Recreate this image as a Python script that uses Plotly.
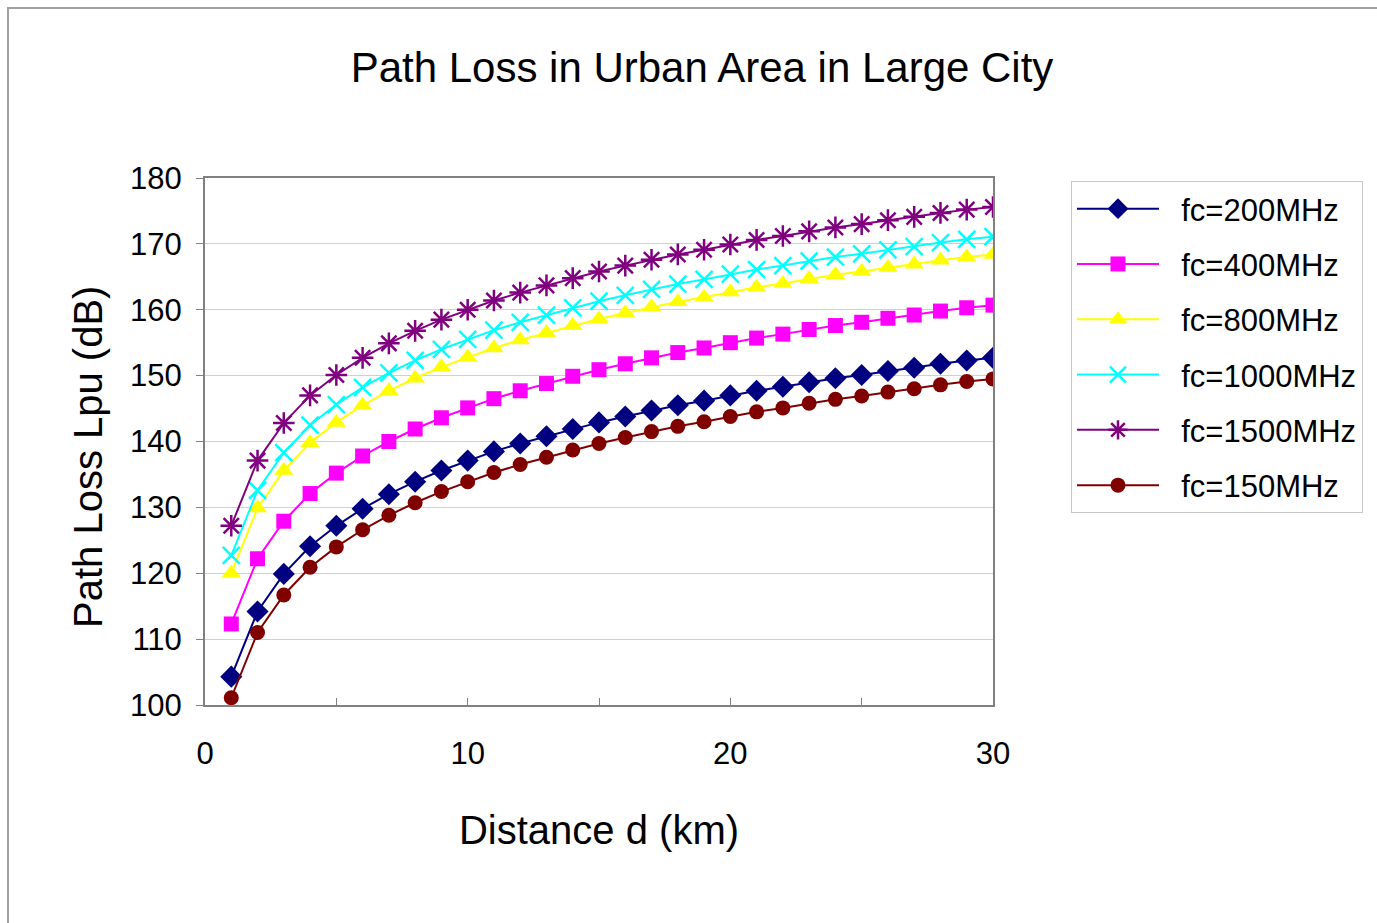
import plotly.graph_objects as go

distance_km = list(range(1, 31))

loss_200 = [104.3, 114.2, 119.9, 124.1, 127.2, 129.8, 132.0, 133.9, 135.6, 137.1, 138.5, 139.7, 140.8, 141.9, 142.9,
            143.8, 144.7, 145.5, 146.2, 147.0, 147.7, 148.3, 149.0, 149.6, 150.1, 150.7, 151.2, 151.8, 152.3, 152.7]
loss_400 = [112.3, 122.2, 127.9, 132.1, 135.2, 137.8, 140.0, 141.9, 143.6, 145.1, 146.5, 147.7, 148.8, 149.9, 150.9,
            151.8, 152.7, 153.5, 154.2, 155.0, 155.7, 156.3, 157.0, 157.6, 158.1, 158.7, 159.2, 159.8, 160.3, 160.7]
loss_800 = [120.0, 129.9, 135.6, 139.8, 142.9, 145.5, 147.7, 149.6, 151.3, 152.8, 154.2, 155.4, 156.5, 157.6, 158.6,
            159.5, 160.4, 161.2, 161.9, 162.7, 163.4, 164.0, 164.7, 165.3, 165.8, 166.4, 166.9, 167.5, 168.0, 168.4]
loss_1000 = [122.7, 132.6, 138.3, 142.5, 145.6, 148.2, 150.4, 152.3, 154.0, 155.5, 156.9, 158.1, 159.2, 160.3, 161.3,
             162.2, 163.1, 163.9, 164.6, 165.4, 166.1, 166.7, 167.4, 168.0, 168.5, 169.1, 169.6, 170.2, 170.7, 171.1]
loss_1500 = [127.2, 137.1, 142.8, 147.0, 150.1, 152.7, 154.9, 156.8, 158.5, 160.0, 161.4, 162.6, 163.7, 164.8, 165.8,
             166.7, 167.6, 168.4, 169.1, 169.9, 170.6, 171.2, 171.9, 172.5, 173.0, 173.6, 174.1, 174.7, 175.2, 175.6]
loss_150 = [101.1, 111.0, 116.7, 120.9, 124.0, 126.6, 128.8, 130.7, 132.4, 133.9, 135.3, 136.5, 137.6, 138.7, 139.7,
            140.6, 141.5, 142.3, 143.0, 143.8, 144.5, 145.1, 145.8, 146.4, 146.9, 147.5, 148.0, 148.6, 149.1, 149.5]

series_names = ["fc=200MHz", "fc=400MHz", "fc=800MHz", "fc=1000MHz", "fc=1500MHz", "fc=150MHz"]
series_values = [loss_200, loss_400, loss_800, loss_1000, loss_1500, loss_150]

x_tick_vals = [0, 5, 10, 15, 20, 25, 30]
x_tick_text = ["0", "", "10", "", "20", "", "30"]
y_tick_vals = [100, 110, 120, 130, 140, 150, 160, 170, 180]

colors = ["#000080", "#FF00FF", "#FFFF00", "#00FFFF", "#800080", "#800000"]
symbols = ["diamond", "square", "triangle-up", "x-thin-open", "asterisk-open", "circle"]
sizes = [17, 15, 17, 17, 18, 15]

FONT = "Arial, 'Liberation Sans', sans-serif"

fig = go.Figure()
for i, (name, vals) in enumerate(zip(series_names, series_values)):
    open_sym = symbols[i].endswith("open")
    fig.add_trace(go.Scatter(
        x=distance_km, y=vals, name="\u00a0\u00a0" + name,
        mode="lines+markers", legendgroup=name,
        line=dict(color=colors[i], width=2),
        marker=dict(symbol=symbols[i], size=sizes[i], color=colors[i],
                    line=dict(color=colors[i], width=2.5 if open_sym else 0)),
    ))

fig.update_layout(
    width=1377, height=923, autosize=False,
    margin=dict(l=205, r=384, t=178, b=218, autoexpand=False),
    paper_bgcolor="white", plot_bgcolor="white",
    font=dict(family=FONT, color="black"),
    title=dict(text="Path Loss in Urban Area in Large City", x=(702 / 1377), xanchor="center",
               y=1 - 67 / 923, yanchor="middle", font=dict(size=42, family=FONT)),
    showlegend=True,
    legend=dict(x=(1071 - 205) / 788, xanchor="left", y=(705 - 181) / 527, yanchor="top",
                bordercolor="#C8C8C8", borderwidth=1, bgcolor="white",
                font=dict(size=31, family=FONT), tracegroupgap=12, traceorder="grouped",
                itemwidth=82),
    xaxis=dict(range=[0, 30], tickvals=x_tick_vals, ticktext=x_tick_text,
               ticks="inside", ticklen=7, tickcolor="#808080", tickwidth=1,
               showline=True, linecolor="#808080", linewidth=2, mirror=True,
               showgrid=False, zeroline=False, tickfont=dict(size=31, family=FONT),
               ticklabelstandoff=20,
               title=dict(text="Distance d (km)", font=dict(size=40, family=FONT), standoff=46)),
    yaxis=dict(range=[100, 180], tickvals=y_tick_vals,
               ticks="outside", ticklen=7, tickcolor="#808080", tickwidth=1,
               showline=True, linecolor="#808080", linewidth=2, mirror=True,
               showgrid=True, gridcolor="#D0D0D0", gridwidth=1, zeroline=False,
               tickfont=dict(size=31, family=FONT), ticklabelstandoff=8),
    annotations=[dict(text="Path Loss Lpu (dB)", textangle=-90, xref="paper", yref="paper",
                      x=(88 - 205) / 788, y=(705 - 457) / 527, xanchor="center", yanchor="middle",
                      showarrow=False, font=dict(size=40, family=FONT))],
    shapes=[dict(type="rect", xref="paper", yref="paper",
                 x0=(8 - 205) / 788, x1=1.6, y0=-0.6, y1=(705 - 8) / 527,
                 line=dict(color="#A0A0A0", width=2), fillcolor="rgba(0,0,0,0)", layer="below")],
)

fig.write_html("out.html", config={"displayModeBar": False},
               post_script="document.body.style.margin='0';document.body.style.overflow='hidden';")
